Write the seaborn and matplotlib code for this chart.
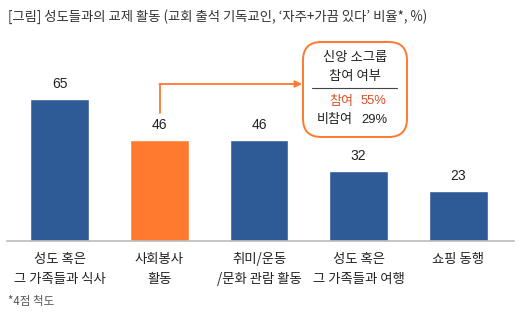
import matplotlib
matplotlib.use("Agg")
import matplotlib.pyplot as plt
from matplotlib.patches import FancyBboxPatch
import seaborn as sns
import pandas as pd

categories = ["성도 혹은\n그 가족들과 식사", "사회봉사\n활동", "취미/운동\n/문화 관람 활동",
              "성도 혹은\n그 가족들과 여행", "쇼핑 동행"]
values = [65, 46, 46, 32, 23]
highlight = [False, True, False, False, False]
title = "[그림] 성도들과의 교제 활동 (교회 출석 기독교인, ‘자주+가끔 있다’ 비율*, %)"
footnote = "*4점 척도"
box_title = "신앙 소그룹\n참여 여부"
box_rows = [("참여", "55%"), ("비참여", "29%")]

BLUE = "#2E5A95"
ORANGE = "#FF7A2E"
RED = "#DC4E28"
TXT = "#222222"

sns.set_theme(style="white")
plt.rcParams["font.family"] = ["Noto Sans CJK KR", "DejaVu Sans"]

W, H = 522, 322
fig = plt.figure(figsize=(W / 100, H / 100), dpi=100)

def fx(x):
    return x / W

def fy(y):
    return 1 - y / H

ax = fig.add_axes([fx(7), fy(241), (514 - 7) / W, (241 - 30) / H])

df = pd.DataFrame({"cat": categories, "val": values,
                   "grp": ["h" if h else "n" for h in highlight]})
sns.barplot(data=df, x="cat", y="val", hue="grp",
            palette={"n": BLUE, "h": ORANGE}, dodge=False, width=0.59,
            legend=False, ax=ax, saturation=1)
ax.set_xlim(-0.53, 4.56)
ax.set_ylim(0, 96.3)
ax.set_xlabel("")
ax.set_ylabel("")
ax.set_yticks([])
for s in ["top", "left", "right"]:
    ax.spines[s].set_visible(False)
ax.spines["bottom"].set_color("#BBBBBB")
ax.spines["bottom"].set_linewidth(1.2)
ax.tick_params(axis="x", length=0, pad=8)
ax.set_xticks(range(len(categories)))
ax.set_xticklabels(categories, fontsize=9.6, color=TXT, linespacing=1.5, va="top")

for i, v in enumerate(values):
    ax.text(i, v + 3.6, f"{v}", ha="center", va="bottom", fontsize=10, color=TXT,
            family=["Liberation Sans", "DejaVu Sans"])

fig.text(fx(8), fy(17), title, fontsize=9.6, color="#333333", va="center", ha="left")
fig.text(fx(8), fy(302), footnote, fontsize=8.3, color="#555555", va="center", ha="left")

# annotation arrow
fig.add_artist(plt.Line2D([fx(160), fx(160)], [fy(113), fy(84)], color=ORANGE, lw=1.3))
ax.annotate("", xy=(fx(302), fy(84)), xytext=(fx(159.4), fy(84)),
            xycoords="figure fraction", textcoords="figure fraction",
            arrowprops=dict(arrowstyle="-|>", color=ORANGE, lw=1.3,
                            mutation_scale=10, shrinkA=0, shrinkB=0))

box = FancyBboxPatch((fx(303), fy(137)), (407 - 303) / W, (137 - 42) / H,
                     boxstyle="round,pad=0,rounding_size=0.035",
                     transform=fig.transFigure, facecolor="white",
                     edgecolor=ORANGE, lw=1.4, mutation_aspect=W / H)
fig.add_artist(box)
fig.text(fx(355), fy(66.5), box_title, fontsize=9.6, color=TXT, ha="center", va="center",
         linespacing=1.45)
fig.add_artist(plt.Line2D([fx(312), fx(397)], [fy(88), fy(88)], color="#444444", lw=0.8))
fig.text(fx(353), fy(101), box_rows[0][0], fontsize=9.4, color=RED, ha="right", va="center")
fig.text(fx(361), fy(101), box_rows[0][1], fontsize=9.4, color=RED, ha="left", va="center",
         family=["Liberation Sans", "DejaVu Sans"])
fig.text(fx(353), fy(120), box_rows[1][0], fontsize=9.4, color=TXT, ha="right", va="center")
fig.text(fx(361), fy(120), box_rows[1][1], fontsize=9.4, color=TXT, ha="left", va="center",
         family=["Liberation Sans", "DejaVu Sans"])

fig.savefig("out.png", dpi=100)
